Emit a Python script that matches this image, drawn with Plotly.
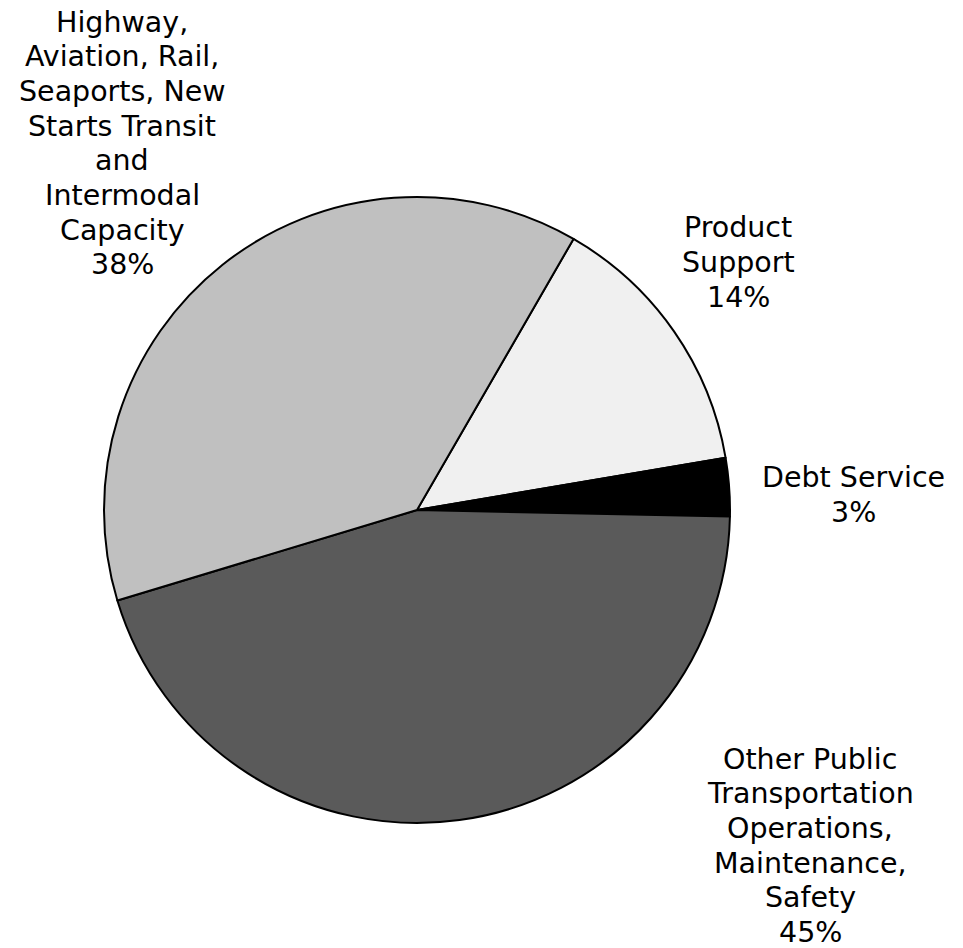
import plotly.graph_objects as go

# Budget shares by program category (percent)
categories = [
    "Product<br>Support",
    "Debt Service",
    "Other Public<br>Transportation<br>Operations,<br>Maintenance,<br>Safety",
    "Highway,<br>Aviation, Rail,<br>Seaports, New<br>Starts Transit<br>and<br>Intermodal<br>Capacity",
]
shares = [14, 3, 45, 38]
slice_colors = ["#f0f0f0", "#000000", "#5a5a5a", "#c0c0c0"]

# Label placement in pixels: horizontal center and first-line center
label_cx = [738, 853, 810, 122]
label_top = [228, 478, 759, 22]
LINE_STEP = 34.7
W, H = 963, 948

fig = go.Figure(
    go.Pie(
        values=shares,
        labels=[c.replace("<br>", " ") for c in categories],
        marker=dict(colors=slice_colors, line=dict(color="#000000", width=2)),
        sort=False,
        direction="clockwise",
        rotation=30,
        textinfo="none",
        hoverinfo="label+percent",
        domain=dict(x=[104 / W, 730 / W], y=[1 - 823 / H, 1 - 197 / H]),
        showlegend=False,
    )
)

# Each label is set line by line to keep a tight line pitch
for cat, val, cx, top in zip(categories, shares, label_cx, label_top):
    lines = cat.split("<br>") + [f"{val}%"]
    for i, line in enumerate(lines):
        fig.add_annotation(
            x=cx / W, y=1 - (top + i * LINE_STEP) / H,
            xref="paper", yref="paper",
            text=line,
            showarrow=False, xanchor="center", yanchor="middle",
            font=dict(family="DejaVu Sans, Verdana, sans-serif", size=28.5, color="#000000"),
        )

fig.update_layout(
    width=W, height=H,
    margin=dict(l=0, r=0, t=0, b=0),
    paper_bgcolor="#ffffff",
    plot_bgcolor="#ffffff",
)

fig.write_html("out.html")
